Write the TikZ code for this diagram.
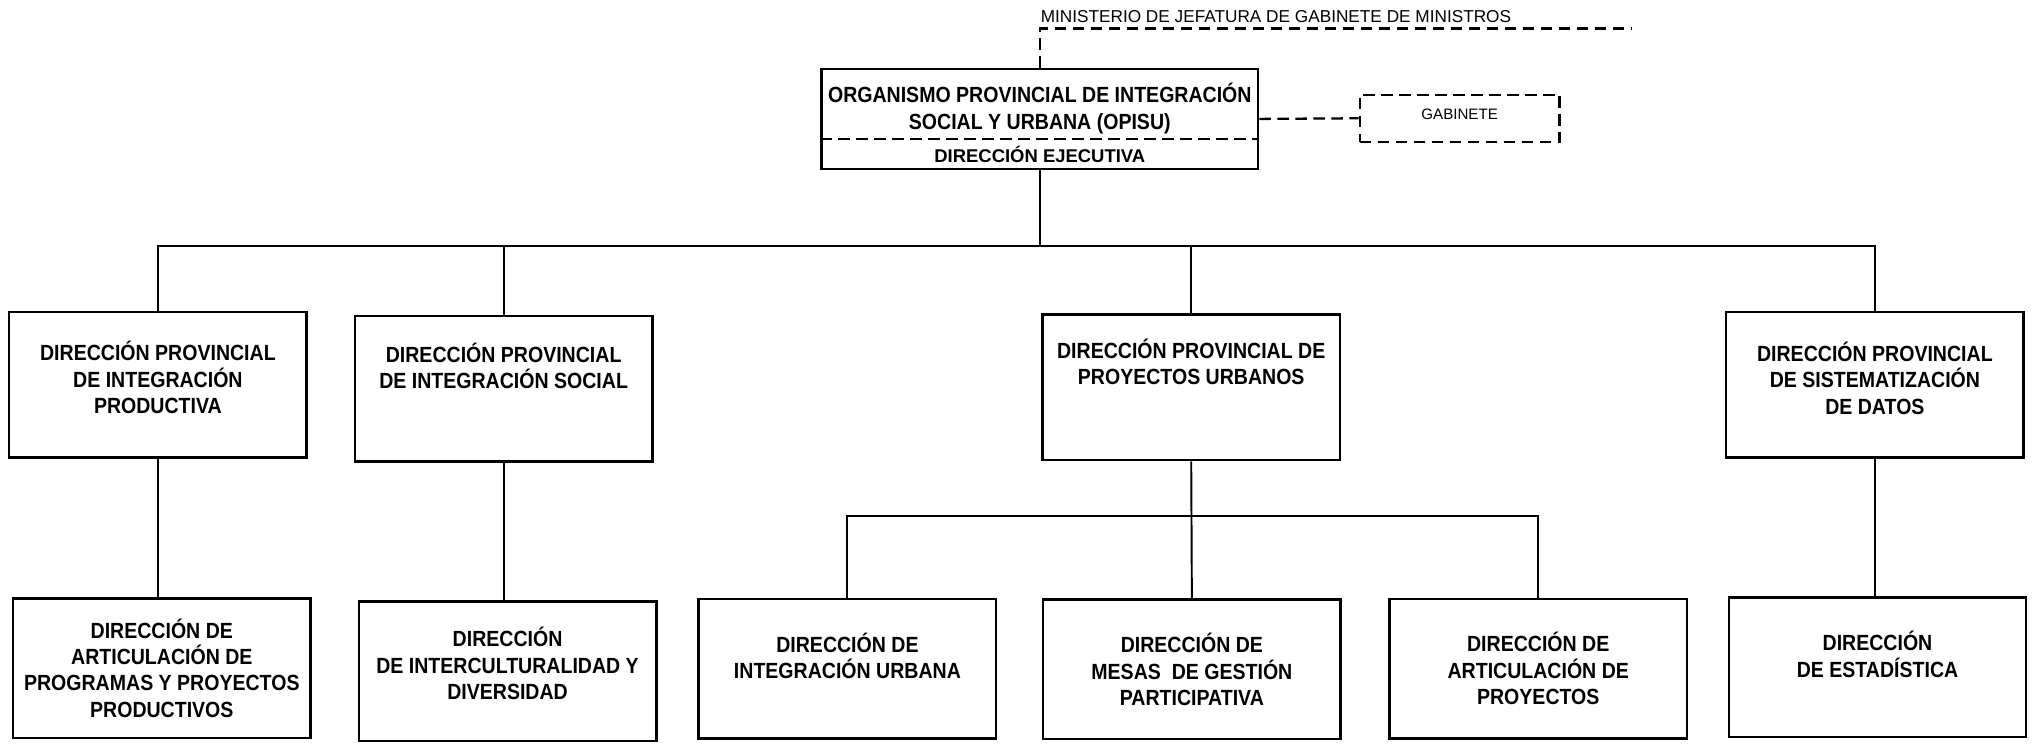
\documentclass[tikz,border=0pt]{standalone}
\usepackage{fontspec}
\setmainfont{Liberation Sans}
\newfontfamily\narrowfont{Liberation Sans}[FakeStretch=0.89]
\usetikzlibrary{positioning}

\begin{document}
\begin{tikzpicture}[x=0.026cm, y=-0.026cm, line width=1.1pt,
  dir node/.style={rectangle,draw,line width=1.4pt,minimum width=5.95cm,minimum height=2.91cm,align=center,inner sep=2pt},
  sub node/.style={dir node,minimum height=2.79cm},
  gab line/.style={line width=1.3pt,dash pattern=on 0.23cm off 0.13cm}]
\useasboundingbox (0,0) rectangle (1568,572);
\coordinate (bus) at (798,189);
\coordinate (subbus) at (917,397);
\coordinate (minend) at (1255,22);
\coordinate (divy) at (800,107);
\begin{scope}[every node/.style={font=\narrowfont\bfseries\fontsize{12.5}{15}\selectfont}]
\node[dir node,minimum width=8.74cm,minimum height=2cm] (opisu) at (800,91.5) {};
\node[align=center] (opisutxt) at (800,83.5) {ORGANISMO PROVINCIAL DE INTEGRACIÓN\\SOCIAL Y URBANA (OPISU)};
\node[font=\bfseries\fontsize{10.5}{12}\selectfont] (ejec) at (800,119) {DIRECCIÓN EJECUTIVA};
\node[draw,gab line,align=center,minimum width=4cm,minimum height=0.94cm,font=\fontsize{8.6}{10}\selectfont] (gab) at (1123,91) {GABINETE\\[-5.6pt]\mbox{}};
\node[anchor=base west,inner sep=0pt,font=\fontsize{9.8}{12}\selectfont] (mjgm) at (800,17) {MINISTERIO DE JEFATURA DE GABINETE DE MINISTROS};
\node[dir node] (dpip) at (121.5,296) {DIRECCIÓN PROVINCIAL\\DE INTEGRACIÓN\\PRODUCTIVA\\[-6.9pt]\mbox{}};
\node[dir node] (dpis) at (387.5,299) {DIRECCIÓN PROVINCIAL\\DE INTEGRACIÓN SOCIAL\\[11.3pt]\mbox{}};
\node[dir node] (dppu) at (916.5,298) {DIRECCIÓN PROVINCIAL DE\\PROYECTOS URBANOS\\[14.2pt]\mbox{}};
\node[dir node] (dpsd) at (1442.5,296) {DIRECCIÓN PROVINCIAL\\DE SISTEMATIZACIÓN\\DE DATOS\\[-7.6pt]\mbox{}};
\node[sub node] (dapp) at (124.5,514) {DIRECCIÓN DE\\ARTICULACIÓN DE\\PROGRAMAS Y PROYECTOS\\PRODUCTIVOS};
\node[sub node] (didv) at (390.5,516.5) {DIRECCIÓN\\DE INTERCULTURALIDAD Y\\DIVERSIDAD\\[-6.1pt]\mbox{}};
\node[sub node] (diu) at (652,514.5) {DIRECCIÓN DE\\INTEGRACIÓN URBANA\\ \mbox{}};
\node[sub node] (dmgp) at (917,515) {DIRECCIÓN DE\\MESAS\ \ DE GESTIÓN\\PARTICIPATIVA};
\node[sub node] (dap) at (1183.5,514.5) {DIRECCIÓN DE\\ARTICULACIÓN DE\\PROYECTOS};
\node[sub node] (dest) at (1444.5,513.5) {DIRECCIÓN\\DE ESTADÍSTICA\\ \mbox{}};
\end{scope}
\draw[gab line] (opisu.west |- divy) -- (opisu.east |- divy);
\draw[gab line] (opisu.east) -- (gab.west);
\draw[gab line] (opisu.north) |- (minend);
\begin{scope}[line width=1.1pt]
\draw (opisu.south) -- (opisu.south |- bus);
\draw (dpip.north) -- (dpip.north |- bus) -- (dpsd.north |- bus) -- (dpsd.north);
\draw (dpis.north) -- (dpis.north |- bus);
\draw (dppu.north) -- (dppu.north |- bus);
\draw (dppu.south) -- (dmgp.north);
\draw (diu.north) -- (diu.north |- subbus) -- (dap.north |- subbus) -- (dap.north);
\draw (dpip.south) -- (dpip.south |- dapp.north);
\draw (dpis.south) -- (dpis.south |- didv.north);
\draw (dpsd.south) -- (dpsd.south |- dest.north);
\end{scope}
\end{tikzpicture}
\end{document}
